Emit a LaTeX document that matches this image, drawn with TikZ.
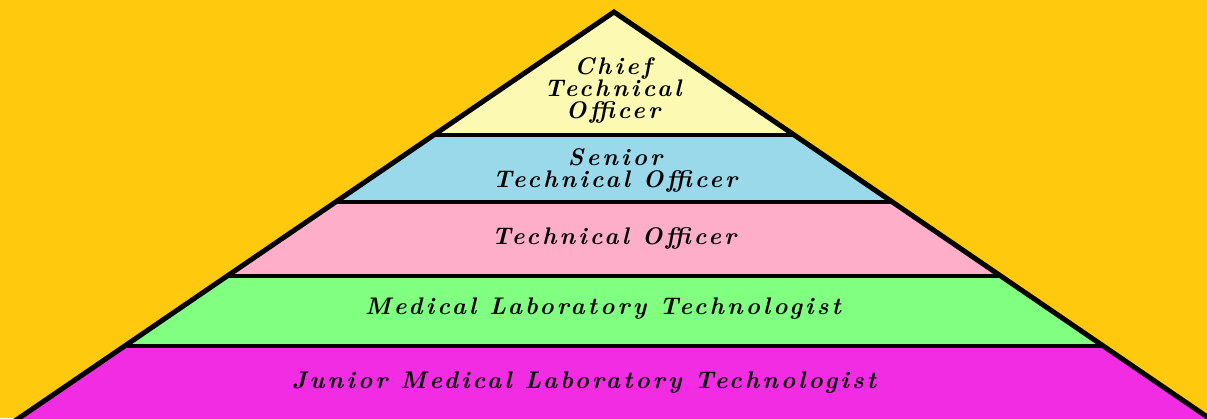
\documentclass[tikz,border=0pt]{standalone}
\usepackage{fontspec}
\newfontfamily\labfont{Latin Modern Roman}[LetterSpace=13]
\definecolor{bgc}{HTML}{FFC90E}
\definecolor{lyel}{HTML}{FCFAB2}
\definecolor{lblu}{HTML}{99D9EA}
\definecolor{lpnk}{HTML}{FFAEC9}
\definecolor{lgrn}{HTML}{80FF80}
\definecolor{lmag}{HTML}{F22CE3}
\tikzset{
  lab/.style={font=\labfont\itshape\bfseries\fontsize{24}{22}\selectfont, align=center, text=black, inner sep=0pt},
  sep/.style={line width=4pt, black},
  outline/.style={line width=5pt, black, line join=miter}
}
\begin{document}
\begin{tikzpicture}[x=1pt,y=-1pt]
\useasboundingbox (0,0) rectangle (1207,418);
\fill[bgc] (0,0) rectangle (1207,418);
\begin{scope}
\clip (0,0) rectangle (1207,418);
\coordinate (apex) at (614,12);
\coordinate (l1) at (433.8,135); \coordinate (r1) at (794.2,135);
\coordinate (l2) at (335.6,202); \coordinate (r2) at (892.4,202);
\coordinate (l3) at (227.2,276); \coordinate (r3) at (1000.8,276);
\coordinate (l4) at (124.7,346); \coordinate (r4) at (1103.3,346);
\coordinate (l5) at (1.6,430);   \coordinate (r5) at (1226.4,430);
\fill[lyel] (apex) -- (r1) -- (l1) -- cycle;
\fill[lblu] (l1) -- (r1) -- (r2) -- (l2) -- cycle;
\fill[lpnk] (l2) -- (r2) -- (r3) -- (l3) -- cycle;
\fill[lgrn] (l3) -- (r3) -- (r4) -- (l4) -- cycle;
\fill[lmag] (l4) -- (r4) -- (r5) -- (l5) -- cycle;
\draw[sep] (l1) -- (r1);
\draw[sep] (l2) -- (r2);
\draw[sep] (l3) -- (r3);
\draw[sep] (l4) -- (r4);
\draw[outline] (l5) -- (apex) -- (r5);
\end{scope}
\node[lab] (t1) at (613,90) {Chief\\Technical\\Officer};
\node[lab] (t2) at (615,170) {Senior\\Technical Officer};
\node[lab] (t3) at (614,238) {Technical Officer};
\node[lab] (t4) at (603,309) {Medical Laboratory Technologist};
\node[lab] (t5) at (584,383) {Junior Medical Laboratory Technologist};
\end{tikzpicture}
\end{document}
